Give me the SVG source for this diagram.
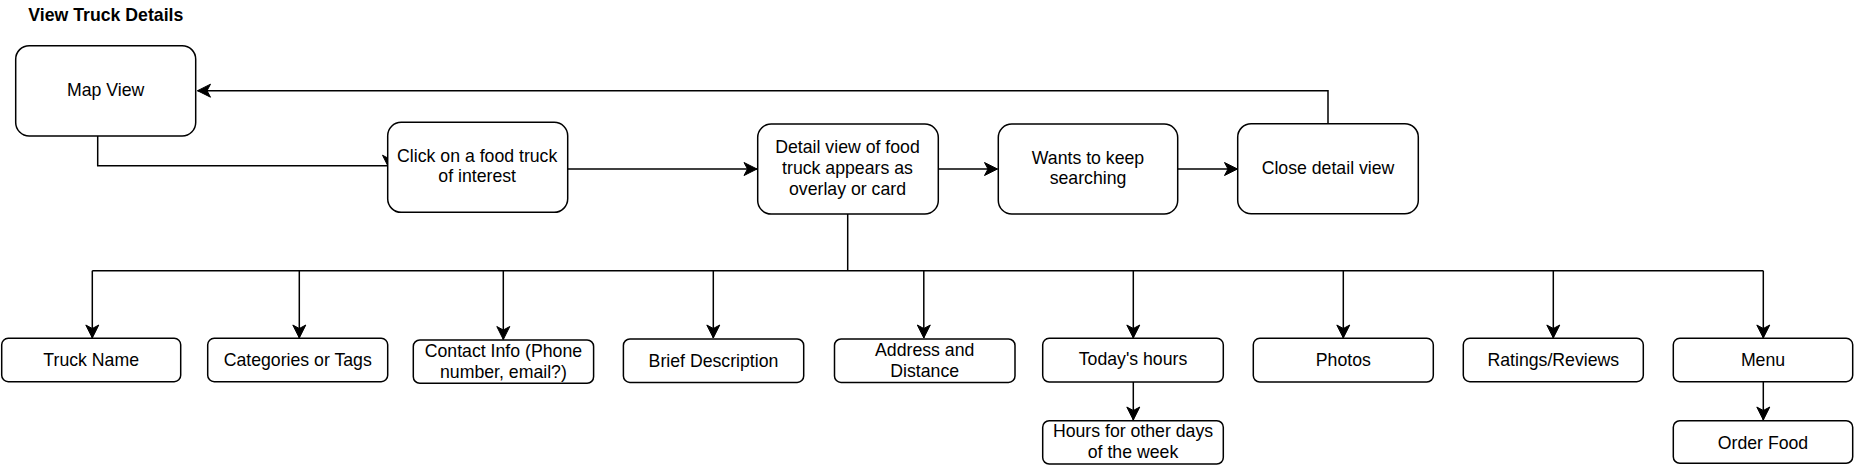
<svg xmlns="http://www.w3.org/2000/svg" width="1854" height="465" viewBox="0 0 1854 465">
<style>
.box{fill:#ffffff;stroke:#000000;stroke-width:1.5}
.lbl{font-family:"Liberation Sans",Arial,Helvetica,sans-serif;font-size:17.7px;fill:#000000;text-anchor:middle}
.title{font-family:"Liberation Sans",Arial,Helvetica,sans-serif;font-size:17.7px;font-weight:bold;fill:#000000}
.edge{fill:none;stroke:#000000;stroke-width:1.5}
</style>
<defs>
<marker id="arr" markerUnits="userSpaceOnUse" markerWidth="16" markerHeight="16" viewBox="-14 -8 16 16" refX="0" refY="0" orient="auto" overflow="visible">
<path d="M0,0 L-13,-6.5 L-9.5,0 L-13,6.5 Z" fill="#000000" stroke="#000000" stroke-width="1"/>
</marker>
<marker id="arrDown" markerUnits="userSpaceOnUse" markerWidth="16" markerHeight="16" viewBox="-14 -8 16 16" refX="-2.5" refY="0" orient="90" overflow="visible">
<path d="M0,0 L-13,-6.5 L-9.5,0 L-13,6.5 Z" fill="#000000" stroke="#000000" stroke-width="1"/>
</marker>
</defs>
<rect width="1854" height="465" fill="#ffffff"/>
<text class="title" x="28.3" y="20.7">View Truck Details</text>

<g id="connectors">
<path class="edge" d="M97.7,136 V165.7 H389" marker-end="url(#arrDown)"/>
<path class="edge" d="M567.7,169 H757" marker-end="url(#arr)"/>
<path class="edge" d="M938.3,169 H997.5" marker-end="url(#arr)"/>
<path class="edge" d="M1177.7,169 H1237.5" marker-end="url(#arr)"/>
<path class="edge" d="M1328,123.7 V90.7 H197.5" marker-end="url(#arr)"/>
<path class="edge" d="M847.7,214 V270.7"/>
<path class="edge" d="M92.3,270.7 H1763.3"/>
<path class="edge" d="M92.3,270.7 V338" marker-end="url(#arr)"/>
<path class="edge" d="M299.3,270.7 V338" marker-end="url(#arr)"/>
<path class="edge" d="M503.3,270.7 V339.5" marker-end="url(#arr)"/>
<path class="edge" d="M713.3,270.7 V338" marker-end="url(#arr)"/>
<path class="edge" d="M923.8,270.7 V338" marker-end="url(#arr)"/>
<path class="edge" d="M1133.3,270.7 V338" marker-end="url(#arr)"/>
<path class="edge" d="M1343.3,270.7 V338" marker-end="url(#arr)"/>
<path class="edge" d="M1553.3,270.7 V338" marker-end="url(#arr)"/>
<path class="edge" d="M1763.3,270.7 V338" marker-end="url(#arr)"/>
<path class="edge" d="M1133.3,382 V420" marker-end="url(#arr)"/>
<path class="edge" d="M1763.3,381.7 V420" marker-end="url(#arr)"/>
</g>

<g id="map-view">
<rect class="box" x="15.7" y="45.7" width="180" height="90.3" rx="13.5" ry="13.5"/>
<text class="lbl" x="105.7" y="95.7">Map View</text>
</g>
<g id="click-truck">
<rect class="box" x="387.7" y="122.3" width="180" height="90" rx="13.5" ry="13.5"/>
<text class="lbl" x="477.2" y="161.7">Click on a food truck</text>
<text class="lbl" x="477.2" y="182.3">of interest</text>
</g>
<g id="detail-view">
<rect class="box" x="757.7" y="124" width="180.6" height="90" rx="13.5" ry="13.5"/>
<text class="lbl" x="847.5" y="153.3">Detail view of food</text>
<text class="lbl" x="847.5" y="174">truck appears as</text>
<text class="lbl" x="847.5" y="194.7">overlay or card</text>
</g>
<g id="keep-searching">
<rect class="box" x="998.3" y="124" width="179.4" height="90" rx="13.5" ry="13.5"/>
<text class="lbl" x="1088" y="164">Wants to keep</text>
<text class="lbl" x="1088" y="184.3">searching</text>
</g>
<g id="close-detail">
<rect class="box" x="1237.7" y="123.7" width="180.6" height="90" rx="13.5" ry="13.5"/>
<text class="lbl" x="1328" y="174">Close detail view</text>
</g>

<g id="truck-name">
<rect class="box" x="1.7" y="338.3" width="179" height="43.4" rx="6.5" ry="6.5"/>
<text class="lbl" x="91.2" y="366">Truck Name</text>
</g>
<g id="categories">
<rect class="box" x="207.7" y="338.3" width="180" height="43.4" rx="6.5" ry="6.5"/>
<text class="lbl" x="297.7" y="366">Categories or Tags</text>
</g>
<g id="contact-info">
<rect class="box" x="413.3" y="340" width="180.3" height="43.3" rx="6.5" ry="6.5"/>
<text class="lbl" x="503.4" y="356.7">Contact Info (Phone</text>
<text class="lbl" x="503.4" y="377.7">number, email?)</text>
</g>
<g id="brief-description">
<rect class="box" x="623.4" y="339" width="180.3" height="43.4" rx="6.5" ry="6.5"/>
<text class="lbl" x="713.5" y="366.5">Brief Description</text>
</g>
<g id="address-distance">
<rect class="box" x="834.5" y="339" width="180.5" height="43.4" rx="6.5" ry="6.5"/>
<text class="lbl" x="924.7" y="355.8">Address and</text>
<text class="lbl" x="924.7" y="376.6">Distance</text>
</g>
<g id="todays-hours">
<rect class="box" x="1042.7" y="338.3" width="180.6" height="43.7" rx="6.5" ry="6.5"/>
<text class="lbl" x="1133" y="365">Today's hours</text>
</g>
<g id="photos">
<rect class="box" x="1253.3" y="338.3" width="180" height="43.7" rx="6.5" ry="6.5"/>
<text class="lbl" x="1343.3" y="365.5">Photos</text>
</g>
<g id="ratings-reviews">
<rect class="box" x="1463.3" y="338.3" width="180" height="43.4" rx="6.5" ry="6.5"/>
<text class="lbl" x="1553.3" y="365.5">Ratings/Reviews</text>
</g>
<g id="menu">
<rect class="box" x="1673.3" y="338.3" width="179.4" height="43.4" rx="6.5" ry="6.5"/>
<text class="lbl" x="1763" y="365.5">Menu</text>
</g>
<g id="other-days-hours">
<rect class="box" x="1042.7" y="420.7" width="180.6" height="43.3" rx="6.5" ry="6.5"/>
<text class="lbl" x="1133" y="437.3">Hours for other days</text>
<text class="lbl" x="1133" y="457.7">of the week</text>
</g>
<g id="order-food">
<rect class="box" x="1673.3" y="420.7" width="179.4" height="42.6" rx="6.5" ry="6.5"/>
<text class="lbl" x="1763" y="449">Order Food</text>
</g>
</svg>
